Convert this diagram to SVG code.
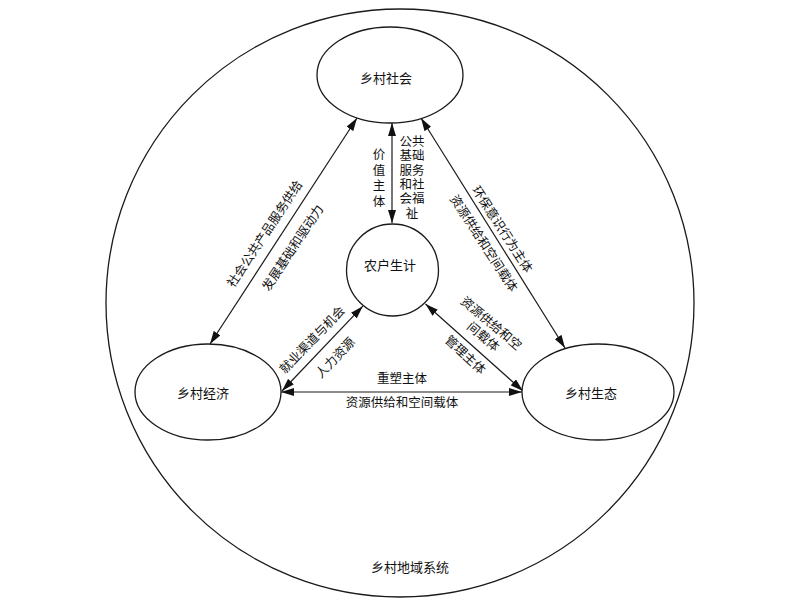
<svg xmlns="http://www.w3.org/2000/svg" width="800" height="606" viewBox="0 0 800 606">
<defs>
<style>
.shape{fill:#fff;stroke:#1a1a1a;stroke-width:1.3}
.line{fill:none;stroke:#1a1a1a;stroke-width:1.2;marker-start:url(#arr);marker-end:url(#arr)}
text{font-family:"Liberation Serif","Noto Sans CJK SC",serif;font-size:12.5px;fill:#111;text-anchor:middle;dominant-baseline:central}
.node{font-size:13px}
</style>
<marker id="arr" viewBox="0 0 13 8" refX="13" refY="4" markerWidth="13" markerHeight="8" markerUnits="userSpaceOnUse" orient="auto-start-reverse">
<path d="M0,0 L13,4 L0,8 Z" fill="#111"/>
</marker>
</defs>
<rect width="800" height="606" fill="#fff"/>
<g id="system">
<circle class="shape" cx="400" cy="303" r="294"/>
<text class="node" x="410" y="567">乡村地域系统</text>
</g>
<g id="connectors">
<line class="line" x1="392" y1="123" x2="392" y2="223"/>
<line class="line" x1="357" y1="118" x2="210" y2="344"/>
<line class="line" x1="421" y1="118" x2="565" y2="348"/>
<line class="line" x1="362.8" y1="306.2" x2="282" y2="391"/>
<line class="line" x1="425.5" y1="304" x2="523" y2="391"/>
<line class="line" x1="281" y1="392" x2="522" y2="392"/>
</g>
<g id="labels">
<text x="379"><tspan x="379" y="155">价</tspan><tspan x="379" y="170.6">值</tspan><tspan x="379" y="186.2">主</tspan><tspan x="379" y="201.8">体</tspan></text>
<text x="412"><tspan x="412" y="142">公共</tspan><tspan x="412" y="156.3">基础</tspan><tspan x="412" y="170.6">服务</tspan><tspan x="412" y="184.9">和社</tspan><tspan x="412" y="199.2">会福</tspan><tspan x="412" y="213.5">祉</tspan></text>
<text transform="translate(265,234) rotate(-56.5)">社会公共产品服务供给</text>
<text transform="translate(293,248) rotate(-56.5)">发展基础和驱动力</text>
<text transform="translate(502,229.5) rotate(57)">环保意识行为主体</text>
<text transform="translate(483.5,243.5) rotate(57)">资源供给和空间载体</text>
<text transform="translate(312.5,340) rotate(-46)">就业渠道与机会</text>
<text transform="translate(335.5,358) rotate(-46)">人力资源</text>
<text transform="translate(491,323.5) rotate(40)">资源供给和空</text>
<text transform="translate(483,337) rotate(40)">间载体</text>
<text transform="translate(465,355) rotate(43)">管理主体</text>
<text x="402" y="379">重塑主体</text>
<text x="402" y="403">资源供给和空间载体</text>
</g>
<g id="society">
<ellipse class="shape" cx="390" cy="75" rx="73" ry="48"/>
<text class="node" x="386" y="78">乡村社会</text>
</g>
<g id="livelihood">
<circle class="shape" cx="392.5" cy="270" r="46"/>
<text class="node" x="390" y="265">农户生计</text>
</g>
<g id="economy">
<ellipse class="shape" cx="208" cy="392" rx="73" ry="48"/>
<text class="node" x="203" y="393">乡村经济</text>
</g>
<g id="ecology">
<ellipse class="shape" cx="598" cy="392" rx="76" ry="48"/>
<text class="node" x="591" y="393">乡村生态</text>
</g>
</svg>
